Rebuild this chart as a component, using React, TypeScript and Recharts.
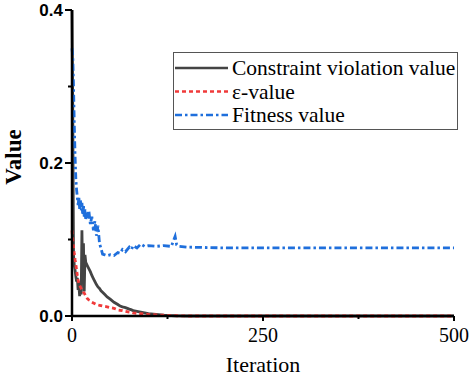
import { LineChart, Line, XAxis, YAxis, Legend } from "recharts"

// iteration samples (denser where the curves move)
const iterations = [
  0, 1, 2, 3, 4, 5, 6, 7, 8, 9, 10, 11, 12, 13, 14, 15, 16, 17, 18, 19, 20,
  22, 24, 26, 28, 30, 32, 34, 36, 38, 40,
  43, 46, 50, 55, 60, 63, 66, 70, 75, 78, 80, 85, 90, 95, 100,
  110, 120, 130, 135, 137, 140, 150,
  200, 250, 300, 350, 400, 450, 500,
]

const constraintViolation = [
  0.4, 0.27, 0.08, 0.066, 0.06, 0.052, 0.045, 0.05, 0.034, 0.04, 0.026, 0.045, 0.028, 0.112, 0.045, 0.095, 0.032, 0.08, 0.07, 0.068, 0.066,
  0.062, 0.058, 0.053, 0.049, 0.045, 0.041, 0.038, 0.036, 0.033, 0.031,
  0.028, 0.025, 0.022, 0.018, 0.015, 0.013, 0.012, 0.011, 0.009, 0.008, 0.007, 0.006, 0.005, 0.004, 0.003,
  0.002, 0.001, 0.0005, 0.0003, 0.0002, 0.0001, 0,
  0, 0, 0, 0, 0, 0, 0,
]

const epsilonValue = [
  0.112, 0.1, 0.09, 0.081, 0.074, 0.068, 0.06, 0.053, 0.047, 0.043, 0.04, 0.038, 0.036, 0.034, 0.033, 0.031, 0.03, 0.028, 0.026, 0.025, 0.023,
  0.021, 0.02, 0.018, 0.017, 0.016, 0.015, 0.0145, 0.014, 0.0135, 0.013,
  0.0125, 0.012, 0.011, 0.01, 0.008, 0.0075, 0.007, 0.006, 0.005, 0.0045, 0.004, 0.0035, 0.003, 0.0025, 0.002,
  0.0015, 0.001, 0.0006, 0.0004, 0.0003, 0.0002, 0,
  0, 0, 0, 0, 0, 0, 0,
]

const fitnessValue = [
  0.35, 0.34, 0.3, 0.25, 0.21, 0.18, 0.165, 0.155, 0.145, 0.155, 0.14, 0.152, 0.138, 0.148, 0.132, 0.145, 0.13, 0.14, 0.125, 0.135, 0.128,
  0.138, 0.12, 0.13, 0.112, 0.124, 0.105, 0.118, 0.095, 0.088, 0.081,
  0.08, 0.079, 0.08, 0.079, 0.083, 0.082, 0.087, 0.084, 0.09, 0.087, 0.092, 0.089, 0.094, 0.091, 0.092,
  0.091, 0.092, 0.091, 0.104, 0.093, 0.091, 0.09,
  0.089, 0.089, 0.089, 0.089, 0.089, 0.089, 0.089,
]

const xTicks = [0, 125, 250, 375, 500]
const xLabels = [0, 250, 500]
const yTicks = [0, 0.1, 0.2, 0.3, 0.4]
const yLabels = [0, 0.2, 0.4]

const series = [
  { key: "cv", name: "Constraint violation value", color: "#444444", dash: undefined, width: 2.8 },
  { key: "eps", name: "\u03b5-value", color: "#f03a3a", dash: "4 3", width: 2.8 },
  { key: "fit", name: "Fitness value", color: "#1f6fdc", dash: "7 3 2.5 3", width: 2.8 },
]

const data = iterations.map((it, i) => ({
  it,
  cv: constraintViolation[i],
  eps: epsilonValue[i],
  fit: fitnessValue[i],
}))

const serif = "'Liberation Serif', 'Times New Roman', serif"

function XTick({ x, y, payload }: any) {
  const major = xLabels.includes(payload.value)
  return (
    <g>
      <line x1={x} x2={x} y1={y} y2={y + (major ? 5 : 3)} stroke="#000" strokeWidth={2} />
      {major && (
        <text x={x} y={y + 26} textAnchor="middle" fontFamily={serif} fontSize={20} fill="#000">
          {payload.value}
        </text>
      )}
    </g>
  )
}

function YTick({ x, y, payload }: any) {
  const major = yLabels.includes(payload.value)
  return (
    <g>
      <line x1={x - (major ? 7 : 4)} x2={x} y1={y} y2={y} stroke="#000" strokeWidth={2} />
      {major && (
        <text x={x - 9} y={y} dy="0.35em" textAnchor="end" fontFamily="'Liberation Sans', Arial, sans-serif" fontWeight="bold" fontSize={17} fill="#000">
          {payload.value.toFixed(1)}
        </text>
      )}
    </g>
  )
}

function LegendBox() {
  return (
    <svg width={285} height={78} style={{ display: "block" }}>
      <rect x={0.5} y={0.5} width={284} height={77} fill="#fff" stroke="#555" strokeWidth={1} />
      {series.map((s, i) => {
        const cy = 16 + i * 23.5
        return (
          <g key={s.key}>
            <line x1={2} x2={55} y1={cy} y2={cy} stroke={s.color} strokeWidth={2.5} strokeDasharray={s.dash} />
            <text x={59} y={cy} dy="0.33em" fontFamily={serif} fontSize={21.5} fill="#000">
              {s.name}
            </text>
          </g>
        )
      })}
    </svg>
  )
}

export default function App() {
  return (
    <div style={{ position: "absolute", left: 0, top: 0, width: 474, height: 378 }}>
      <LineChart width={474} height={378} data={data} margin={{ top: 10, right: 20, left: 0, bottom: 0 }}>
        <XAxis
          dataKey="it"
          type="number"
          domain={[0, 500]}
          ticks={xTicks}
          interval={0}
          height={62}
          tickSize={0}
          tickMargin={0}
          tickLine={false}
          axisLine={{ stroke: "#000", strokeWidth: 2.5 }}
          tick={<XTick />}
          label={({ viewBox }: any) => (
            <text x={viewBox.x + viewBox.width / 2} y={viewBox.y + 56} textAnchor="middle" fontFamily={serif} fontSize={22} fill="#000">
              Iteration
            </text>
          )}
        />
        <YAxis
          type="number"
          domain={[0, 0.4]}
          ticks={yTicks}
          interval={0}
          width={72}
          tickSize={0}
          tickMargin={0}
          tickLine={false}
          axisLine={{ stroke: "#000", strokeWidth: 2.5 }}
          tick={<YTick />}
          label={({ viewBox }: any) => {
            const cx = viewBox.x + 21
            const cy = viewBox.y + viewBox.height / 2 - 6
            return (
              <text x={cx} y={cy} transform={`rotate(-90 ${cx} ${cy})`} textAnchor="middle" fontFamily={serif} fontWeight="bold" fontSize={23} fill="#000">
                Value
              </text>
            )
          }}
        />
        <Legend
          layout="vertical"
          align="center"
          verticalAlign="middle"
          content={<LegendBox />}
          wrapperStyle={{ left: 173, top: 52, width: 285, height: 78 }}
        />
        {series.map((s) => (
          <Line
            key={s.key}
            dataKey={s.key}
            name={s.name}
            type="linear"
            stroke={s.color}
            strokeWidth={s.width}
            strokeDasharray={s.dash}
            dot={false}
            activeDot={false}
            isAnimationActive={false}
          />
        ))}
      </LineChart>
    </div>
  )
}
